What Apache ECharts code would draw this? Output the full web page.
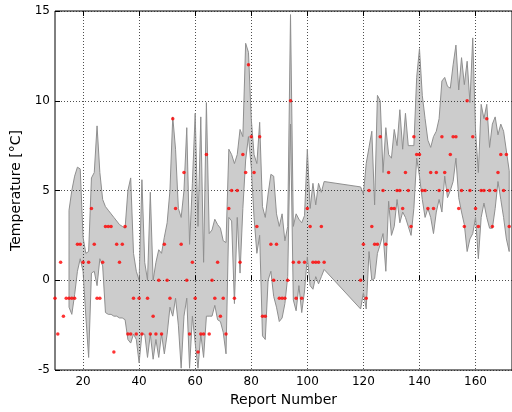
<!DOCTYPE html>
<html>
<head>
<meta charset="utf-8">
<script src="https://cdn.jsdelivr.net/npm/echarts@6/dist/echarts.min.js"></script>
</head>
<body style="margin:0;background:#fff">
<div id="container" style="width:512px;height:412px"></div>
<script>
// red dots: observed temperature per report
const dotX = [10, 11, 12, 13, 14, 15, 16, 17, 18, 19, 20, 22, 23, 24, 25, 26, 27, 28, 29, 30,
  31, 32, 33, 34, 35, 36, 37, 38, 39, 40, 41, 43, 44, 45, 46, 47, 48, 49, 50, 51,
  52, 53, 55, 56, 57, 58, 59, 60, 61, 62, 63, 64, 65, 66, 67, 68, 69, 70, 71, 72,
  73, 74, 75, 76, 77, 78, 79, 80, 81, 82, 83, 84, 85, 87, 88, 89, 90, 91, 92, 93,
  94, 95, 96, 97, 98, 99, 100, 101, 102, 103, 104, 105, 106,
  119, 120, 121, 122, 123, 124, 125, 126, 127, 128, 129, 130, 131, 132, 133, 134, 135, 136, 137, 138,
  139, 140, 141, 142, 143, 144, 145, 146, 147, 148, 149, 150, 151, 152, 153, 154, 155, 156, 157, 158,
  159, 160, 161, 162, 163, 164, 165, 166, 167, 168, 169, 170, 171, 172];
const dotTemp = [-1, -3, 1, -2, -1, -1, -1, -1, 2, 2, 1, 1, 4, 2, -1, -1, 1, 3, 3, 3,
  -4, 2, 1, 2, 3, -3, -3, -1, -3, -1, -3, -1, -3, -2, -3, 0, -3, 2, 0, -1,
  9, 4, 2, 6, 0, -3, 1, -1, -4, -3, -3, 7, -3, 0, -1, 1, -2, -1, -3, 4,
  5, -1, 5, 1, 7, 6, 12, 8, 6, 3, 8, -2, -2, 2, 0, 2, -1, -1, -1, 0,
  10, 1, -1, 1, -1, 1, 4, 3, 1, 1, 1, 3, 1,
  0, 2, -1, 5, 3, 2, 2, 8, 5, 2, 6, 4, 4, 5, 5, 4, 6, 5, 3, 8,
  7, 7, 5, 5, 4, 6, 4, 6, 5, 8, 6, 5, 7, 8, 8, 4, 5, 3, 10, 5,
  8, 4, 3, 5, 5, 9, 5, 3, 5, 6, 7, 5, 7, 3];

// grey band: spread of the forecasts
const bandX = [15, 16, 17, 18, 19, 20, 21, 22, 23, 24, 25, 26, 27, 28, 29, 30, 31, 32, 33, 34,
  35, 36, 37, 38, 39, 40, 41, 42, 43, 44, 45, 46, 47, 48, 49, 50, 51, 52, 53, 54,
  55, 56, 57, 58, 59, 60, 61, 62, 63, 64, 65, 66, 67, 68, 69, 70, 71, 72, 73, 74,
  75, 76, 77, 78, 79, 80, 81, 82, 83, 84, 85, 86, 87, 88, 89, 90, 91, 92, 93, 94,
  95, 96, 97, 98, 99, 100, 101, 102, 103, 104, 105, 106,
  119, 120, 121, 122, 123, 124, 125, 126, 127, 128, 129, 130, 131, 132, 133, 134, 135, 136, 137, 138,
  139, 140, 141, 142, 143, 144, 145, 146, 147, 148, 149, 150, 151, 152, 153, 154, 155, 156, 157, 158,
  159, 160, 161, 162, 163, 164, 165, 166, 167, 168, 169, 170, 171, 172];
const bandHigh = [3.9, 5.0, 5.8, 6.3, 6.2, 2.4, 1.5, 1.6, 5.7, 6.0, 8.6, 6.0, 4.5, 4.1, 3.9, 3.7, 3.5, 3.3, 3.1, 3.0,
  2.9, 5.0, 5.7, 1.5, 0.5, 0.0, 5.6, 1.0, 0.0, 4.9, 0.0, 1.0, 1.7, 1.5, 2.4, 3.2, 5.0, 9.1, 7.3, 4.0,
  3.5, 5.0, 8.5, 2.0, 5.4, 9.3, 3.0, 9.1, 1.0, 9.9, 2.6, 2.8, 3.4, 3.1, 2.9, 2.2, 2.1, 7.3, 7.0, 6.5,
  7.0, 8.4, 8.0, 13.2, 12.7, 9.0, 7.0, 6.5, 8.8, 4.1, 3.5, 4.8, 5.9, 5.8, 3.7, 3.0, 3.7, 2.2, 3.0, 14.8,
  3.0, 3.7, 3.4, 3.2, 3.6, 7.3, 4.0, 5.4, 4.2, 5.4, 4.9, 5.5,
  5.2, 4.8, 6.5, 7.4, 8.3, 4.2, 10.3, 10.0, 6.0, 8.5, 7.0, 6.8, 8.4, 7.5, 9.5, 7.3, 9.3, 7.5, 7.5, 7.5,
  11.3, 12.9, 10.3, 9.0, 7.8, 7.4, 8.0, 8.3, 9.0, 11.1, 11.3, 10.8, 10.7, 12.0, 13.1, 10.6, 12.4, 10.9, 12.2, 9.9,
  13.5, 8.3, 6.0, 9.8, 9.0, 9.8, 7.4, 8.7, 9.1, 8.1, 8.7, 8.3, 7.2, 6.1];
const bandLow = [-1.5, -1.9, -0.8, 0.5, 1.2, 0.5, -2.0, -4.3, 0.4, 0.5, -0.3, 1.2, 0.8, -1.8, -1.9, -1.9, -2.0, -2.0, -2.1, -2.1,
  -2.2, -3.3, -3.5, -3.0, -3.3, -4.6, -3.0, -3.0, -4.3, -3.0, -4.4, -3.3, -4.3, -3.0, -4.1, -3.0, -1.5, -2.0, -1.0, -2.5,
  -4.9, -2.0, -1.0, -4.9, -2.0, -3.5, -4.9, -3.0, -4.3, -2.0, -2.0, -2.0, -1.4, -2.2, -2.3, -2.9, -4.1, 3.5, 3.3, -1.3,
  3.5, 0.4, 4.0, 6.7, 8.0, 6.3, 3.5, 1.5, 2.5, -3.1, -3.3, 0.0, 0.5, -0.9, -1.5, -2.3, -2.1, -1.3, 0.2, 8.7,
  -1.1, -1.7, -0.3, -1.8, -0.6, 1.3, -0.3, -0.5, 0.2, -0.2, 0.2, 0.6,
  -1.6, -0.7, -1.6, 1.6, 0.0, 0.1, 1.5, 2.0, 2.6, 0.5, 4.4, 2.5, 3.0, 4.5, 3.2, 3.8, 3.5, 3.0, 2.5, 4.0,
  6.8, 5.8, 4.5, 3.5, 4.0, 3.5, 2.6, 3.8, 4.5, 3.8, 5.8, 4.6, 5.0, 5.5, 6.8, 4.6, 3.8, 3.1, 1.6, 2.3,
  2.6, 3.5, 1.2, 3.5, 4.3, 3.5, 2.9, 2.9, 4.0, 5.5, 4.5, 3.5, 2.3, 1.6];

const xTicks = [20, 40, 60, 80, 100, 120, 140, 160];

var dom = document.getElementById('container');
var myChart = echarts.init(dom, null, { renderer: 'canvas' });
const font = 'DejaVu Sans';

var option = {
  backgroundColor: '#fff',
  animation: false,
  textStyle: { fontFamily: font },
  grid: {
    left: 55, right: -2, top: 11, bottom: 42,
    show: true, borderColor: '#000', borderWidth: 1
  },
  xAxis: [
    {
      type: 'value', min: 10, max: 173, position: 'bottom',
      name: 'Report Number', nameLocation: 'middle', nameGap: 20,
      nameTextStyle: { fontSize: 14, color: '#000', fontFamily: font },
      axisLine: { show: false },
      axisTick: { inside: true, length: 5, customValues: xTicks, lineStyle: { color: '#000' } },
      axisLabel: { customValues: xTicks, fontSize: 12, color: '#000', margin: 6, fontFamily: font },
      splitLine: { show: true, lineStyle: { type: [1, 2], color: '#222', width: 0.8 } }
    },
    {
      type: 'value', min: 10, max: 173, position: 'top',
      axisLine: { show: false },
      axisTick: { inside: true, length: 5, customValues: xTicks, lineStyle: { color: '#000' } },
      axisLabel: { show: false },
      splitLine: { show: false }
    }
  ],
  yAxis: {
    type: 'value', min: -5, max: 15, interval: 5,
    name: 'Temperature [°C]', nameLocation: 'middle', nameGap: 32, nameRotate: 90,
    nameTextStyle: { fontSize: 14, color: '#000', fontFamily: font },
    axisLine: { show: false },
    axisTick: { inside: true, length: 5, lineStyle: { color: '#000' } },
    axisLabel: { fontSize: 12, color: '#000', margin: 5, fontFamily: font },
    splitLine: { show: true, lineStyle: { type: [1, 2], color: '#222', width: 0.8 } }
  },
  series: [
    {
      type: 'custom',
      clip: true,
      z: 2,
      data: bandX.map((x, i) => [x, bandLow[i], bandHigh[i]]),
      encode: { x: 0, y: [1, 2] },
      renderItem: function (params, api) {
        if (params.dataIndex !== 0) return null;
        const top = bandX.map((x, i) => api.coord([x, bandHigh[i]]));
        const bottom = bandX.map((x, i) => api.coord([x, bandLow[i]])).reverse();
        return {
          type: 'polygon',
          shape: { points: top.concat(bottom) },
          style: { fill: 'rgba(0,0,0,0.2)', stroke: '#8f8f8f', lineWidth: 1 }
        };
      }
    },
    {
      type: 'scatter',
      z: 3,
      symbol: 'circle',
      symbolSize: 3.5,
      itemStyle: { color: '#ff0000' },
      data: dotX.map((x, i) => [x, dotTemp[i]])
    }
  ]
};
myChart.setOption(option);
</script>
</body>
</html>
